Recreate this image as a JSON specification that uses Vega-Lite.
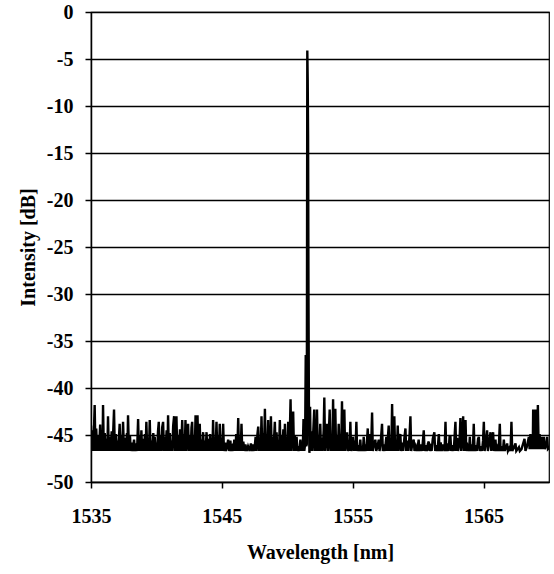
{
  "$schema": "https://vega.github.io/schema/vega-lite/v6.json",
  "width": 458,
  "height": 470,
  "autosize": {"type": "none"},
  "padding": {"left": 91, "top": 12, "right": 5, "bottom": 92},
  "background": "white",
  "config": {
    "view": {"stroke": "black", "strokeWidth": 1.2},
    "font": "Liberation Serif",
    "axis": {
      "labelFont": "Liberation Serif",
      "labelFontWeight": "bold",
      "labelFontSize": 20,
      "labelColor": "black",
      "titleFont": "Liberation Serif",
      "titleFontWeight": "bold",
      "titleFontSize": 20,
      "titleColor": "black",
      "domainColor": "black",
      "domainWidth": 1.5,
      "tickColor": "black",
      "tickWidth": 1.5,
      "tickSize": 6
    }
  },
  "data": {
    "values": [
      {"nm": 1535.00, "dB": -44.0}, {"nm": 1535.05, "dB": -46.7}, {"nm": 1535.12, "dB": -44.5}, {"nm": 1535.18, "dB": -46.7},
      {"nm": 1535.28, "dB": -41.8}, {"nm": 1535.34, "dB": -46.7}, {"nm": 1535.40, "dB": -44.3}, {"nm": 1535.46, "dB": -46.7},
      {"nm": 1535.55, "dB": -45.0}, {"nm": 1535.62, "dB": -46.7}, {"nm": 1535.70, "dB": -43.9}, {"nm": 1535.76, "dB": -46.7},
      {"nm": 1535.84, "dB": -45.3}, {"nm": 1535.88, "dB": -46.7}, {"nm": 1535.92, "dB": -41.8}, {"nm": 1535.98, "dB": -46.7},
      {"nm": 1536.05, "dB": -44.8}, {"nm": 1536.12, "dB": -46.7}, {"nm": 1536.20, "dB": -45.4}, {"nm": 1536.25, "dB": -46.7},
      {"nm": 1536.30, "dB": -43.0}, {"nm": 1536.36, "dB": -46.7}, {"nm": 1536.44, "dB": -45.2}, {"nm": 1536.50, "dB": -46.7},
      {"nm": 1536.58, "dB": -44.6}, {"nm": 1536.64, "dB": -46.7}, {"nm": 1536.76, "dB": -42.3}, {"nm": 1536.82, "dB": -46.7},
      {"nm": 1536.90, "dB": -44.9}, {"nm": 1536.96, "dB": -46.7}, {"nm": 1537.03, "dB": -45.6}, {"nm": 1537.08, "dB": -46.7},
      {"nm": 1537.19, "dB": -43.8}, {"nm": 1537.25, "dB": -46.7}, {"nm": 1537.32, "dB": -45.0}, {"nm": 1537.38, "dB": -46.7},
      {"nm": 1537.45, "dB": -43.6}, {"nm": 1537.52, "dB": -46.7}, {"nm": 1537.60, "dB": -45.3}, {"nm": 1537.66, "dB": -46.7},
      {"nm": 1537.75, "dB": -44.8}, {"nm": 1537.78, "dB": -46.7}, {"nm": 1537.83, "dB": -42.9}, {"nm": 1537.90, "dB": -46.7},
      {"nm": 1537.98, "dB": -45.1}, {"nm": 1538.04, "dB": -46.7}, {"nm": 1538.12, "dB": -45.8}, {"nm": 1538.18, "dB": -46.7},
      {"nm": 1538.29, "dB": -45.5}, {"nm": 1538.36, "dB": -46.7}, {"nm": 1538.45, "dB": -45.9}, {"nm": 1538.52, "dB": -46.7},
      {"nm": 1538.60, "dB": -43.3}, {"nm": 1538.66, "dB": -46.7}, {"nm": 1538.74, "dB": -45.0}, {"nm": 1538.80, "dB": -46.7},
      {"nm": 1538.85, "dB": -44.5}, {"nm": 1538.91, "dB": -46.7}, {"nm": 1538.98, "dB": -45.4}, {"nm": 1539.05, "dB": -46.7},
      {"nm": 1539.12, "dB": -44.9}, {"nm": 1539.17, "dB": -46.7}, {"nm": 1539.23, "dB": -43.6}, {"nm": 1539.30, "dB": -46.7},
      {"nm": 1539.37, "dB": -45.3}, {"nm": 1539.43, "dB": -46.7}, {"nm": 1539.49, "dB": -43.4}, {"nm": 1539.55, "dB": -46.7},
      {"nm": 1539.62, "dB": -45.6}, {"nm": 1539.68, "dB": -46.7}, {"nm": 1539.76, "dB": -44.8}, {"nm": 1539.82, "dB": -46.7},
      {"nm": 1539.87, "dB": -45.2}, {"nm": 1539.93, "dB": -46.7}, {"nm": 1540.00, "dB": -45.8}, {"nm": 1540.06, "dB": -46.7},
      {"nm": 1540.12, "dB": -44.6}, {"nm": 1540.18, "dB": -43.6}, {"nm": 1540.24, "dB": -46.7}, {"nm": 1540.32, "dB": -45.0},
      {"nm": 1540.38, "dB": -46.7}, {"nm": 1540.44, "dB": -44.2}, {"nm": 1540.51, "dB": -43.6}, {"nm": 1540.57, "dB": -46.7},
      {"nm": 1540.64, "dB": -45.2}, {"nm": 1540.70, "dB": -46.7}, {"nm": 1540.78, "dB": -44.5}, {"nm": 1540.84, "dB": -46.7},
      {"nm": 1540.89, "dB": -42.9}, {"nm": 1540.95, "dB": -46.7}, {"nm": 1541.02, "dB": -44.8}, {"nm": 1541.08, "dB": -46.7},
      {"nm": 1541.15, "dB": -45.6}, {"nm": 1541.21, "dB": -46.7}, {"nm": 1541.28, "dB": -44.0}, {"nm": 1541.35, "dB": -43.0},
      {"nm": 1541.41, "dB": -46.7}, {"nm": 1541.47, "dB": -44.6}, {"nm": 1541.53, "dB": -43.0}, {"nm": 1541.59, "dB": -46.7},
      {"nm": 1541.66, "dB": -45.0}, {"nm": 1541.72, "dB": -46.7}, {"nm": 1541.80, "dB": -44.4}, {"nm": 1541.87, "dB": -46.7},
      {"nm": 1541.92, "dB": -45.3}, {"nm": 1541.97, "dB": -43.4}, {"nm": 1542.03, "dB": -46.7}, {"nm": 1542.10, "dB": -44.9},
      {"nm": 1542.16, "dB": -46.7}, {"nm": 1542.22, "dB": -43.4}, {"nm": 1542.28, "dB": -46.7}, {"nm": 1542.35, "dB": -45.4},
      {"nm": 1542.42, "dB": -43.8}, {"nm": 1542.48, "dB": -46.7}, {"nm": 1542.56, "dB": -45.0}, {"nm": 1542.62, "dB": -46.7},
      {"nm": 1542.68, "dB": -44.2}, {"nm": 1542.73, "dB": -43.6}, {"nm": 1542.79, "dB": -46.7}, {"nm": 1542.86, "dB": -45.1},
      {"nm": 1542.93, "dB": -46.7}, {"nm": 1542.99, "dB": -42.9}, {"nm": 1543.05, "dB": -46.7}, {"nm": 1543.10, "dB": -44.6},
      {"nm": 1543.14, "dB": -42.9}, {"nm": 1543.20, "dB": -46.7}, {"nm": 1543.26, "dB": -45.3}, {"nm": 1543.31, "dB": -43.8},
      {"nm": 1543.37, "dB": -46.7}, {"nm": 1543.44, "dB": -45.5}, {"nm": 1543.50, "dB": -46.7}, {"nm": 1543.57, "dB": -44.7},
      {"nm": 1543.63, "dB": -46.7}, {"nm": 1543.70, "dB": -45.6}, {"nm": 1543.76, "dB": -46.7}, {"nm": 1543.83, "dB": -44.7},
      {"nm": 1543.89, "dB": -46.7}, {"nm": 1543.96, "dB": -45.4}, {"nm": 1544.03, "dB": -46.7}, {"nm": 1544.10, "dB": -44.9},
      {"nm": 1544.16, "dB": -46.7}, {"nm": 1544.22, "dB": -45.8}, {"nm": 1544.28, "dB": -46.7}, {"nm": 1544.33, "dB": -43.4},
      {"nm": 1544.39, "dB": -46.7}, {"nm": 1544.46, "dB": -45.2}, {"nm": 1544.52, "dB": -46.7}, {"nm": 1544.59, "dB": -43.6},
      {"nm": 1544.65, "dB": -46.7}, {"nm": 1544.72, "dB": -45.0}, {"nm": 1544.78, "dB": -46.7}, {"nm": 1544.84, "dB": -43.8},
      {"nm": 1544.90, "dB": -46.7}, {"nm": 1544.97, "dB": -45.3}, {"nm": 1545.03, "dB": -46.7}, {"nm": 1545.10, "dB": -43.8},
      {"nm": 1545.16, "dB": -46.7}, {"nm": 1545.25, "dB": -45.8}, {"nm": 1545.31, "dB": -46.7}, {"nm": 1545.40, "dB": -46.2},
      {"nm": 1545.48, "dB": -45.5}, {"nm": 1545.55, "dB": -46.7}, {"nm": 1545.65, "dB": -45.6}, {"nm": 1545.72, "dB": -46.7},
      {"nm": 1545.80, "dB": -46.3}, {"nm": 1545.88, "dB": -46.7}, {"nm": 1545.95, "dB": -45.5}, {"nm": 1546.02, "dB": -46.7},
      {"nm": 1546.10, "dB": -44.9}, {"nm": 1546.18, "dB": -46.7}, {"nm": 1546.25, "dB": -43.2}, {"nm": 1546.31, "dB": -46.7},
      {"nm": 1546.38, "dB": -45.2}, {"nm": 1546.44, "dB": -46.7}, {"nm": 1546.50, "dB": -43.8}, {"nm": 1546.56, "dB": -46.7},
      {"nm": 1546.64, "dB": -45.7}, {"nm": 1546.72, "dB": -46.7}, {"nm": 1546.80, "dB": -46.0}, {"nm": 1546.90, "dB": -46.7},
      {"nm": 1547.00, "dB": -46.2}, {"nm": 1547.12, "dB": -46.7}, {"nm": 1547.22, "dB": -45.9}, {"nm": 1547.32, "dB": -46.7},
      {"nm": 1547.40, "dB": -46.0}, {"nm": 1547.48, "dB": -46.7}, {"nm": 1547.58, "dB": -45.2}, {"nm": 1547.64, "dB": -46.7},
      {"nm": 1547.72, "dB": -44.9}, {"nm": 1547.78, "dB": -44.1}, {"nm": 1547.84, "dB": -46.7}, {"nm": 1547.92, "dB": -45.3},
      {"nm": 1547.97, "dB": -46.7}, {"nm": 1548.03, "dB": -43.0}, {"nm": 1548.09, "dB": -46.7}, {"nm": 1548.16, "dB": -44.8},
      {"nm": 1548.22, "dB": -46.7}, {"nm": 1548.29, "dB": -42.2}, {"nm": 1548.35, "dB": -46.7}, {"nm": 1548.42, "dB": -44.9},
      {"nm": 1548.48, "dB": -46.7}, {"nm": 1548.54, "dB": -43.4}, {"nm": 1548.60, "dB": -46.7}, {"nm": 1548.67, "dB": -44.5},
      {"nm": 1548.70, "dB": -46.7}, {"nm": 1548.75, "dB": -43.0}, {"nm": 1548.81, "dB": -46.7}, {"nm": 1548.88, "dB": -45.2},
      {"nm": 1548.94, "dB": -46.7}, {"nm": 1549.05, "dB": -43.6}, {"nm": 1549.11, "dB": -46.7}, {"nm": 1549.18, "dB": -44.7},
      {"nm": 1549.24, "dB": -46.7}, {"nm": 1549.31, "dB": -45.6}, {"nm": 1549.37, "dB": -46.7}, {"nm": 1549.43, "dB": -43.4},
      {"nm": 1549.49, "dB": -46.7}, {"nm": 1549.56, "dB": -45.0}, {"nm": 1549.62, "dB": -46.7}, {"nm": 1549.70, "dB": -44.4},
      {"nm": 1549.76, "dB": -46.7}, {"nm": 1549.82, "dB": -43.8}, {"nm": 1549.88, "dB": -46.7}, {"nm": 1549.95, "dB": -45.2},
      {"nm": 1550.01, "dB": -46.7}, {"nm": 1550.07, "dB": -43.6}, {"nm": 1550.13, "dB": -46.7}, {"nm": 1550.19, "dB": -45.1},
      {"nm": 1550.25, "dB": -41.2}, {"nm": 1550.31, "dB": -46.7}, {"nm": 1550.38, "dB": -44.7}, {"nm": 1550.45, "dB": -42.5},
      {"nm": 1550.51, "dB": -46.7}, {"nm": 1550.58, "dB": -45.0}, {"nm": 1550.64, "dB": -46.7}, {"nm": 1550.71, "dB": -45.2},
      {"nm": 1550.78, "dB": -46.7}, {"nm": 1550.86, "dB": -46.2}, {"nm": 1550.93, "dB": -46.7}, {"nm": 1551.00, "dB": -45.5},
      {"nm": 1551.06, "dB": -46.7}, {"nm": 1551.12, "dB": -45.7}, {"nm": 1551.18, "dB": -46.7}, {"nm": 1551.24, "dB": -43.3},
      {"nm": 1551.30, "dB": -46.7}, {"nm": 1551.36, "dB": -46.0}, {"nm": 1551.41, "dB": -36.5}, {"nm": 1551.45, "dB": -46.2},
      {"nm": 1551.49, "dB": -46.0}, {"nm": 1551.53, "dB": -4.1}, {"nm": 1551.56, "dB": -7.2}, {"nm": 1551.59, "dB": -13.3},
      {"nm": 1551.62, "dB": -30.0}, {"nm": 1551.65, "dB": -41.3}, {"nm": 1551.69, "dB": -46.9}, {"nm": 1551.74, "dB": -42.0},
      {"nm": 1551.79, "dB": -46.7}, {"nm": 1551.85, "dB": -44.6}, {"nm": 1551.92, "dB": -46.7}, {"nm": 1552.06, "dB": -42.3},
      {"nm": 1552.12, "dB": -46.7}, {"nm": 1552.18, "dB": -44.8}, {"nm": 1552.22, "dB": -46.7}, {"nm": 1552.27, "dB": -42.3},
      {"nm": 1552.33, "dB": -46.7}, {"nm": 1552.40, "dB": -45.0}, {"nm": 1552.46, "dB": -46.7}, {"nm": 1552.52, "dB": -43.8},
      {"nm": 1552.58, "dB": -46.7}, {"nm": 1552.64, "dB": -45.3}, {"nm": 1552.70, "dB": -46.7}, {"nm": 1552.78, "dB": -44.5},
      {"nm": 1552.83, "dB": -41.0}, {"nm": 1552.89, "dB": -46.7}, {"nm": 1552.96, "dB": -45.2}, {"nm": 1553.04, "dB": -43.8},
      {"nm": 1553.10, "dB": -46.7}, {"nm": 1553.17, "dB": -45.0}, {"nm": 1553.24, "dB": -42.3}, {"nm": 1553.30, "dB": -46.7},
      {"nm": 1553.37, "dB": -45.4}, {"nm": 1553.44, "dB": -46.7}, {"nm": 1553.50, "dB": -41.2}, {"nm": 1553.56, "dB": -46.7},
      {"nm": 1553.62, "dB": -44.3}, {"nm": 1553.67, "dB": -42.2}, {"nm": 1553.73, "dB": -46.7}, {"nm": 1553.80, "dB": -45.1},
      {"nm": 1553.87, "dB": -46.7}, {"nm": 1553.93, "dB": -43.8}, {"nm": 1553.99, "dB": -46.7}, {"nm": 1554.06, "dB": -44.9},
      {"nm": 1554.12, "dB": -46.7}, {"nm": 1554.18, "dB": -41.4}, {"nm": 1554.24, "dB": -46.7}, {"nm": 1554.30, "dB": -44.6},
      {"nm": 1554.36, "dB": -42.3}, {"nm": 1554.42, "dB": -46.7}, {"nm": 1554.50, "dB": -45.5}, {"nm": 1554.57, "dB": -44.7},
      {"nm": 1554.63, "dB": -46.7}, {"nm": 1554.70, "dB": -45.9}, {"nm": 1554.76, "dB": -46.7}, {"nm": 1554.82, "dB": -43.6},
      {"nm": 1554.88, "dB": -46.7}, {"nm": 1554.95, "dB": -46.0}, {"nm": 1555.02, "dB": -45.2}, {"nm": 1555.08, "dB": -46.7},
      {"nm": 1555.15, "dB": -45.6}, {"nm": 1555.21, "dB": -46.7}, {"nm": 1555.28, "dB": -43.6}, {"nm": 1555.34, "dB": -46.7},
      {"nm": 1555.42, "dB": -46.1}, {"nm": 1555.50, "dB": -46.7}, {"nm": 1555.58, "dB": -45.5}, {"nm": 1555.64, "dB": -46.7},
      {"nm": 1555.72, "dB": -46.2}, {"nm": 1555.78, "dB": -46.7}, {"nm": 1555.84, "dB": -45.2}, {"nm": 1555.90, "dB": -46.7},
      {"nm": 1555.97, "dB": -46.0}, {"nm": 1556.04, "dB": -46.7}, {"nm": 1556.15, "dB": -44.3}, {"nm": 1556.21, "dB": -46.7},
      {"nm": 1556.30, "dB": -44.9}, {"nm": 1556.36, "dB": -46.7}, {"nm": 1556.42, "dB": -45.7}, {"nm": 1556.48, "dB": -42.6},
      {"nm": 1556.54, "dB": -46.7}, {"nm": 1556.62, "dB": -46.1}, {"nm": 1556.73, "dB": -45.5}, {"nm": 1556.80, "dB": -46.7},
      {"nm": 1556.90, "dB": -46.2}, {"nm": 1556.99, "dB": -45.5}, {"nm": 1557.05, "dB": -46.7}, {"nm": 1557.14, "dB": -45.8},
      {"nm": 1557.24, "dB": -43.8}, {"nm": 1557.30, "dB": -46.7}, {"nm": 1557.38, "dB": -46.0}, {"nm": 1557.46, "dB": -46.7},
      {"nm": 1557.57, "dB": -45.2}, {"nm": 1557.63, "dB": -46.7}, {"nm": 1557.70, "dB": -45.0}, {"nm": 1557.75, "dB": -44.0},
      {"nm": 1557.81, "dB": -46.7}, {"nm": 1557.88, "dB": -45.6}, {"nm": 1557.95, "dB": -46.7}, {"nm": 1558.01, "dB": -41.7},
      {"nm": 1558.07, "dB": -46.7}, {"nm": 1558.13, "dB": -45.0}, {"nm": 1558.18, "dB": -43.0}, {"nm": 1558.24, "dB": -46.7},
      {"nm": 1558.32, "dB": -45.6}, {"nm": 1558.38, "dB": -46.7}, {"nm": 1558.44, "dB": -44.0}, {"nm": 1558.50, "dB": -46.7},
      {"nm": 1558.57, "dB": -45.3}, {"nm": 1558.64, "dB": -44.9}, {"nm": 1558.70, "dB": -46.7}, {"nm": 1558.80, "dB": -45.8},
      {"nm": 1558.86, "dB": -46.7}, {"nm": 1558.95, "dB": -45.3}, {"nm": 1559.03, "dB": -44.3}, {"nm": 1559.09, "dB": -46.7},
      {"nm": 1559.18, "dB": -45.6}, {"nm": 1559.26, "dB": -46.7}, {"nm": 1559.34, "dB": -45.1}, {"nm": 1559.41, "dB": -43.0},
      {"nm": 1559.47, "dB": -46.7}, {"nm": 1559.56, "dB": -45.9}, {"nm": 1559.66, "dB": -45.5}, {"nm": 1559.72, "dB": -46.7},
      {"nm": 1559.82, "dB": -46.2}, {"nm": 1559.92, "dB": -46.7}, {"nm": 1560.04, "dB": -45.5}, {"nm": 1560.10, "dB": -46.7},
      {"nm": 1560.20, "dB": -46.0}, {"nm": 1560.30, "dB": -46.7}, {"nm": 1560.43, "dB": -44.5}, {"nm": 1560.49, "dB": -46.7},
      {"nm": 1560.58, "dB": -46.1}, {"nm": 1560.66, "dB": -46.7}, {"nm": 1560.75, "dB": -45.9}, {"nm": 1560.81, "dB": -45.7},
      {"nm": 1560.87, "dB": -46.7}, {"nm": 1560.95, "dB": -46.3}, {"nm": 1561.03, "dB": -46.7}, {"nm": 1561.12, "dB": -45.4},
      {"nm": 1561.24, "dB": -44.7}, {"nm": 1561.30, "dB": -46.7}, {"nm": 1561.40, "dB": -46.1}, {"nm": 1561.48, "dB": -46.7},
      {"nm": 1561.58, "dB": -44.9}, {"nm": 1561.64, "dB": -46.7}, {"nm": 1561.72, "dB": -45.8}, {"nm": 1561.80, "dB": -46.7},
      {"nm": 1561.90, "dB": -46.0}, {"nm": 1562.02, "dB": -46.7}, {"nm": 1562.09, "dB": -43.6}, {"nm": 1562.15, "dB": -46.7},
      {"nm": 1562.24, "dB": -45.9}, {"nm": 1562.33, "dB": -46.7}, {"nm": 1562.40, "dB": -45.2}, {"nm": 1562.47, "dB": -45.2},
      {"nm": 1562.53, "dB": -46.7}, {"nm": 1562.62, "dB": -46.1}, {"nm": 1562.72, "dB": -46.7}, {"nm": 1562.85, "dB": -43.6},
      {"nm": 1562.91, "dB": -46.7}, {"nm": 1562.98, "dB": -45.3}, {"nm": 1563.05, "dB": -46.7}, {"nm": 1563.16, "dB": -45.8},
      {"nm": 1563.23, "dB": -43.2}, {"nm": 1563.29, "dB": -46.7}, {"nm": 1563.37, "dB": -45.5}, {"nm": 1563.44, "dB": -43.0},
      {"nm": 1563.50, "dB": -46.7}, {"nm": 1563.56, "dB": -45.1}, {"nm": 1563.62, "dB": -43.4}, {"nm": 1563.68, "dB": -46.7},
      {"nm": 1563.78, "dB": -46.2}, {"nm": 1563.88, "dB": -46.7}, {"nm": 1563.95, "dB": -45.2}, {"nm": 1564.01, "dB": -46.7},
      {"nm": 1564.10, "dB": -46.0}, {"nm": 1564.18, "dB": -46.7}, {"nm": 1564.25, "dB": -43.8}, {"nm": 1564.31, "dB": -46.7},
      {"nm": 1564.40, "dB": -46.1}, {"nm": 1564.48, "dB": -46.7}, {"nm": 1564.58, "dB": -45.4}, {"nm": 1564.64, "dB": -45.2},
      {"nm": 1564.70, "dB": -46.7}, {"nm": 1564.80, "dB": -46.2}, {"nm": 1564.88, "dB": -46.7}, {"nm": 1564.96, "dB": -45.6},
      {"nm": 1565.02, "dB": -43.6}, {"nm": 1565.08, "dB": -46.7}, {"nm": 1565.18, "dB": -45.8}, {"nm": 1565.27, "dB": -44.5},
      {"nm": 1565.33, "dB": -46.7}, {"nm": 1565.42, "dB": -45.9}, {"nm": 1565.53, "dB": -44.7}, {"nm": 1565.59, "dB": -46.7},
      {"nm": 1565.66, "dB": -45.7}, {"nm": 1565.73, "dB": -44.7}, {"nm": 1565.79, "dB": -46.7}, {"nm": 1565.86, "dB": -46.2},
      {"nm": 1565.91, "dB": -45.5}, {"nm": 1565.97, "dB": -46.7}, {"nm": 1566.05, "dB": -46.3}, {"nm": 1566.15, "dB": -46.7},
      {"nm": 1566.24, "dB": -43.8}, {"nm": 1566.30, "dB": -46.7}, {"nm": 1566.40, "dB": -46.2}, {"nm": 1566.48, "dB": -46.7},
      {"nm": 1566.55, "dB": -45.5}, {"nm": 1566.62, "dB": -46.7}, {"nm": 1566.72, "dB": -46.3}, {"nm": 1566.80, "dB": -45.9},
      {"nm": 1566.86, "dB": -46.7}, {"nm": 1566.96, "dB": -46.4}, {"nm": 1567.06, "dB": -46.7}, {"nm": 1567.13, "dB": -43.6},
      {"nm": 1567.19, "dB": -46.7}, {"nm": 1567.30, "dB": -46.4}, {"nm": 1567.44, "dB": -45.9}, {"nm": 1567.50, "dB": -46.7},
      {"nm": 1567.60, "dB": -46.5}, {"nm": 1567.70, "dB": -46.3}, {"nm": 1567.77, "dB": -46.7}, {"nm": 1567.90, "dB": -46.5},
      {"nm": 1568.13, "dB": -45.4}, {"nm": 1568.20, "dB": -46.7}, {"nm": 1568.30, "dB": -46.3}, {"nm": 1568.46, "dB": -45.2},
      {"nm": 1568.52, "dB": -46.5}, {"nm": 1568.58, "dB": -44.9}, {"nm": 1568.64, "dB": -46.5}, {"nm": 1568.70, "dB": -45.0},
      {"nm": 1568.76, "dB": -46.5}, {"nm": 1568.79, "dB": -42.3}, {"nm": 1568.85, "dB": -46.5}, {"nm": 1568.90, "dB": -44.8},
      {"nm": 1568.97, "dB": -42.3}, {"nm": 1569.03, "dB": -46.5}, {"nm": 1569.10, "dB": -45.0}, {"nm": 1569.15, "dB": -41.8},
      {"nm": 1569.21, "dB": -46.5}, {"nm": 1569.28, "dB": -44.9}, {"nm": 1569.35, "dB": -46.5}, {"nm": 1569.45, "dB": -45.2},
      {"nm": 1569.52, "dB": -46.5}, {"nm": 1569.61, "dB": -45.2}, {"nm": 1569.68, "dB": -46.5}, {"nm": 1569.80, "dB": -46.0},
      {"nm": 1569.86, "dB": -45.2}, {"nm": 1569.92, "dB": -46.5}, {"nm": 1570.00, "dB": -46.4}
    ]
  },
  "mark": {"type": "line", "color": "black", "strokeWidth": 2.4, "clip": true},
  "encoding": {
    "x": {
      "field": "nm",
      "type": "quantitative",
      "title": "Wavelength [nm]",
      "scale": {"domain": [1535, 1570], "nice": false, "zero": false},
      "axis": {
        "values": [1535, 1545, 1555, 1565],
        "grid": false,
        "format": "d",
        "labelFlush": false,
        "labelPadding": 18,
        "titlePadding": 16
      }
    },
    "y": {
      "field": "dB",
      "type": "quantitative",
      "title": "Intensity [dB]",
      "scale": {"domain": [-50, 0], "nice": false, "zero": false},
      "axis": {
        "values": [-50, -45, -40, -35, -30, -25, -20, -15, -10, -5, 0],
        "grid": true,
        "gridColor": "black",
        "gridWidth": 1.5,
        "gridOpacity": 1,
        "labelExpr": "datum.value == 0 ? '0' : '-' + abs(datum.value)",
        "labelFlush": false,
        "labelPadding": 12,
        "titlePadding": 8
      }
    }
  }
}
